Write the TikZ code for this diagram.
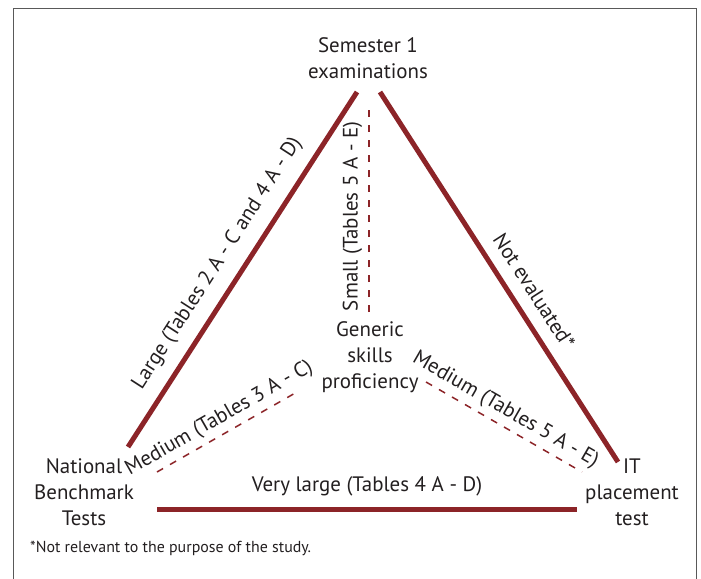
\documentclass[tikz,border=0pt]{standalone}
\usepackage{fontspec}
\setmainfont{PT Sans}
\usetikzlibrary{positioning}

\definecolor{linkred}{RGB}{140,36,40}
\definecolor{inkgray}{RGB}{35,31,32}

\begin{document}
\begin{tikzpicture}[x=1bp,y=-1bp,
  every node/.style={text=inkgray, inner sep=0pt, font=\fontsize{21}{26}\selectfont},
  site/.style={align=center},
  strong/.style={line width=5bp, draw=linkred},
  weak/.style={line width=1.5bp, draw=linkred, dash pattern=on 7bp off 8bp}]
  \useasboundingbox (0,0) rectangle (701,579);
  % frame round the figure
  \draw[black!65, line width=1bp] (13,579) -- (13,9) -- (696,9) -- (696,579);
  % the four measures
  \node[site] (sem) at (368,58) {Semester 1\\examinations};
  \node[site] (nbt) at (84,492) {National\\Benchmark\\Tests};
  \node[site] (it) at (632,492) {IT\\placement\\test};
  \node[site] (gen) at (370,357) {Generic\\skills\\proficiency};
  % set up the line ends
  \coordinate (semL) at (357,92);
  \coordinate (semR) at (380,92);
  \coordinate (semD) at (369,104);
  \coordinate (nbtT) at (128,447);
  \coordinate (nbtR) at (157,509);
  \coordinate (nbtD) at (157,472);
  \coordinate (itT) at (618,462);
  \coordinate (itL) at (577,509);
  \coordinate (itD) at (582,472);
  \coordinate (genT) at (369,312);
  \coordinate (genL) at (297,392);
  \coordinate (genR) at (426,382);
  % outer triangle
  \draw[strong] (nbtT) -- (semL) node[pos=0.48, sloped, above=12bp] {Large (Tables 2 A - C and 4 A - D)};
  \draw[strong] (semR) -- (itT) node[pos=0.57, sloped, above=12bp] {Not evaluated*};
  \draw[strong] (nbtR) -- (itL) node[midway, above=10bp] {Very large (Tables 4 A - D)};
  % dashed links to generic skills
  \draw[weak] (genT) -- (semD) node[pos=0.46, sloped, above=6bp] {Small (Tables 5 A - E)};
  \draw[weak] (nbtD) -- (genL) node[midway, sloped, above=5bp] {Medium (Tables 3 A - C)};
  \draw[weak] (genR) -- (itD) node[pos=0.46, sloped, above=5bp] {Medium (Tables 5 A - E)};
  % footnote
  \node[anchor=base west, font=\fontsize{16}{19}\selectfont] (note) at (30,552) {*Not relevant to the purpose of the study.};
\end{tikzpicture}
\end{document}
